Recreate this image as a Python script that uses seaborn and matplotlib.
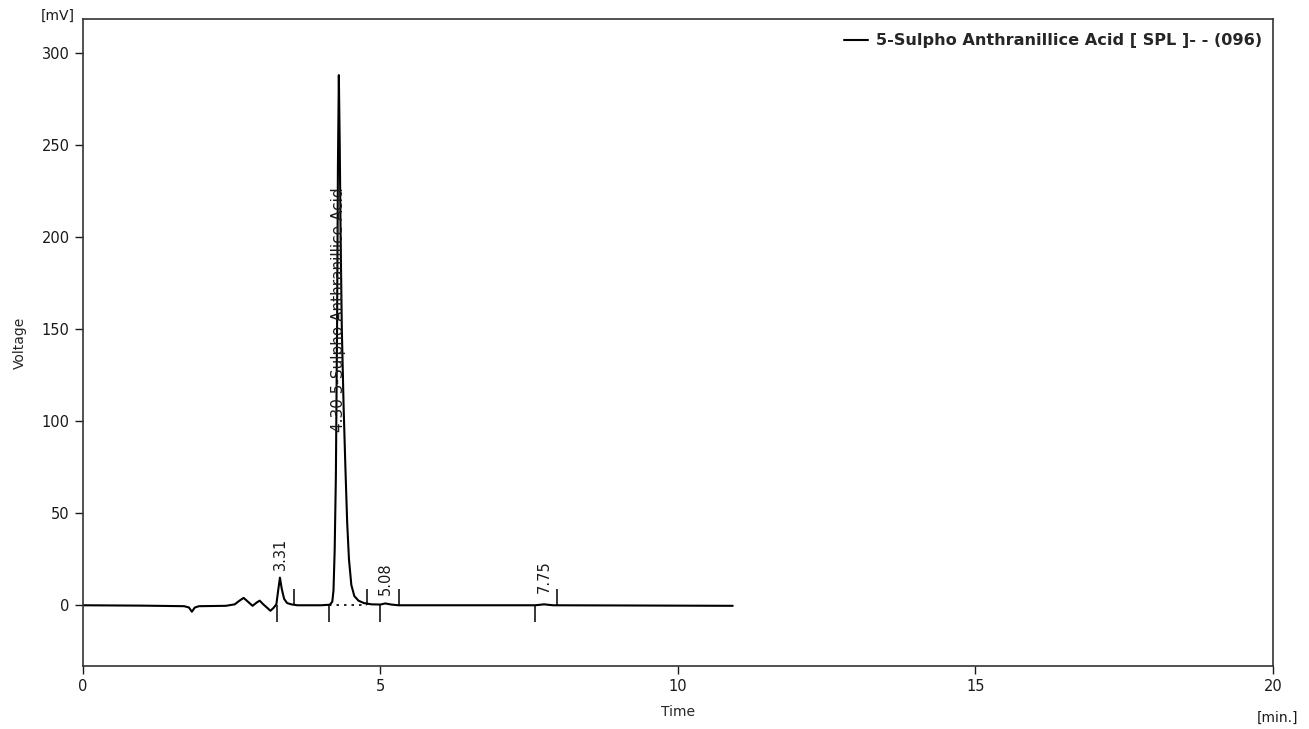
import numpy as np
import pandas as pd
import seaborn as sns
import matplotlib.pyplot as plt

# chromatogram trace (time in min, signal in mV)
time_min = [0.0, 1.0, 1.70, 1.78, 1.83, 1.88, 1.95, 2.40, 2.55, 2.63, 2.70, 2.77, 2.85,
            2.92, 2.97, 3.03, 3.10, 3.15, 3.20, 3.25, 3.28, 3.31, 3.34, 3.38, 3.43, 3.50,
            3.60, 4.00, 4.15, 4.19, 4.21, 4.23, 4.25, 4.27, 4.285, 4.30, 4.315, 4.33,
            4.35, 4.38, 4.41, 4.44, 4.47, 4.51, 4.56, 4.63, 4.72, 4.85, 5.00, 5.08,
            5.18, 5.30, 7.60, 7.75, 7.90, 9.00, 10.92]
voltage = [0.0, -0.2, -0.5, -1.2, -3.5, -1.2, -0.5, -0.3, 0.5, 2.5, 4.0, 2.0, -0.3,
           1.5, 2.5, 0.5, -1.5, -3.0, -1.5, 0.5, 8.0, 15.0, 9.0, 3.5, 1.2, 0.5,
           0.0, 0.0, 0.3, 2.0, 8.0, 30.0, 70.0, 150.0, 240.0, 288.0, 250.0, 200.0,
           150.0, 108.0, 75.0, 45.0, 25.0, 11.0, 5.0, 2.5, 1.2, 0.5, 0.4, 1.0,
           0.4, 0.0, 0.0, 0.5, 0.0, -0.1, -0.3]

# peak labels
peak_rt = [3.31, 4.30, 5.08, 7.75]
peak_text = ["3.31", "4.30 5-Sulpho Anthranillice Acid", "5.08", "7.75"]
label_base = [19, 94, 5.5, 6.5]

# integration start / end markers
peak_start = [3.255, 4.13, 4.99, 7.60]
peak_end = [3.55, 4.77, 5.31, 7.96]

trace = pd.DataFrame({"Time": time_min, "Voltage": voltage})

sns.set_style("ticks")
plt.rcParams['font.family'] = ['DejaVu Sans']
fig = plt.figure(figsize=(13.09, 7.29), dpi=100)
ax = fig.add_axes([0.0634, 0.0864, 0.9091, 0.8876])

sns.lineplot(data=trace, x="Time", y="Voltage", color="black", linewidth=1.5,
             label="5-Sulpho Anthranillice Acid [ SPL ]- - (096)", ax=ax)

# dotted baseline under the main peak
ax.plot([peak_start[1], peak_end[1]], [0, 0], color="black", linestyle=(0, (1.5, 3)), linewidth=1.2)

for s, e in zip(peak_start, peak_end):
    ax.vlines(s, -9, 0, color="black", linewidth=1.1)
    ax.vlines(e, 0, 9, color="black", linewidth=1.1)

for rt, txt, yb in zip(peak_rt, peak_text, label_base):
    size = 10.5 if len(txt) < 6 else 11
    ax.text(rt, yb, txt, rotation=90, ha="center", va="bottom", fontsize=size, color="#1a1a1a")

ax.set_xlim(0, 20)
ax.set_ylim(-33, 318.5)
ax.set_xticks([0, 5, 10, 15, 20])
ax.set_yticks([0, 50, 100, 150, 200, 250, 300])
ax.tick_params(axis="both", direction="out", length=6, width=1, labelsize=10.5, colors="#1a1a1a")
for sp in ax.spines.values():
    sp.set_visible(True)
    sp.set_linewidth(1.2)
    sp.set_color("#333333")

ax.set_xlabel("Time", fontsize=10, labelpad=8)
ax.set_ylabel("Voltage", fontsize=10, labelpad=11)
fig.text(0.044, 0.978, "[mV]", fontsize=10, ha="center", va="center", color="#1a1a1a")
fig.text(0.976, 0.015, "[min.]", fontsize=10, ha="center", va="center", color="#1a1a1a")

leg = ax.legend(loc="upper right", frameon=False,
                prop={"weight": "bold", "size": 11.6}, handlelength=1.5,
                handletextpad=0.5, borderaxespad=0.5, bbox_to_anchor=(1.003, 1.0))

fig.savefig("out.png", dpi=100)
